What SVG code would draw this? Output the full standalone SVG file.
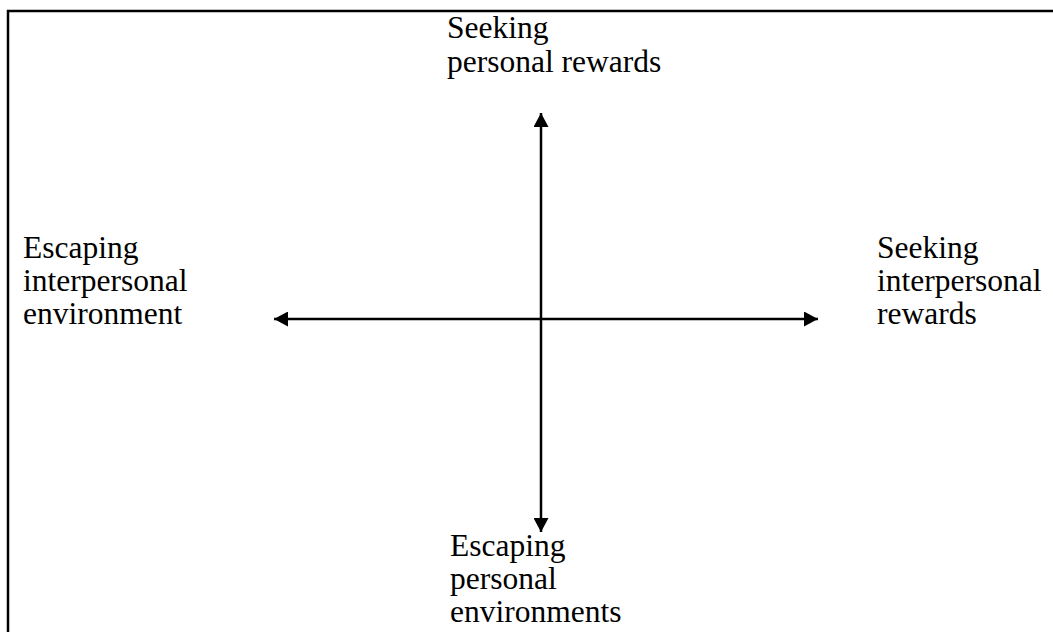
<svg xmlns="http://www.w3.org/2000/svg" width="1053" height="632" viewBox="0 0 1053 632">
<style>
.lbl{font-family:"Liberation Serif","Times New Roman",serif;font-size:31.5px;fill:#000}
.ax{stroke:#000;stroke-width:2.5;fill:none}
</style>
<defs>
<marker id="ah" viewBox="0 0 14 15" refX="14" refY="7.5" markerWidth="14" markerHeight="15" markerUnits="userSpaceOnUse" orient="auto-start-reverse">
<path d="M0,0 L14,7.5 L0,15 Z" fill="#000"/>
</marker>
</defs>
<rect width="1053" height="632" fill="#fff"/>
<g id="frame">
<path d="M8,632 L8,11 L1053,11" stroke="#000" stroke-width="2.5" fill="none"/>
</g>
<g id="connectors">
<line class="ax" x1="541" y1="532" x2="541" y2="113" marker-start="url(#ah)" marker-end="url(#ah)"/>
<line class="ax" x1="274" y1="319" x2="818" y2="319" marker-start="url(#ah)" marker-end="url(#ah)"/>
</g>
<g id="top">
<text class="lbl" x="447" y="38">Seeking</text>
<text class="lbl" x="447" y="72">personal rewards</text>
</g>
<g id="left">
<text class="lbl" x="23" y="258">Escaping</text>
<text class="lbl" x="23" y="291">interpersonal</text>
<text class="lbl" x="23" y="324">environment</text>
</g>
<g id="right">
<text class="lbl" x="877" y="258">Seeking</text>
<text class="lbl" x="877" y="291">interpersonal</text>
<text class="lbl" x="877" y="324">rewards</text>
</g>
<g id="bottom">
<text class="lbl" x="450" y="556">Escaping</text>
<text class="lbl" x="450" y="589">personal</text>
<text class="lbl" x="450" y="622">environments</text>
</g>
</svg>
